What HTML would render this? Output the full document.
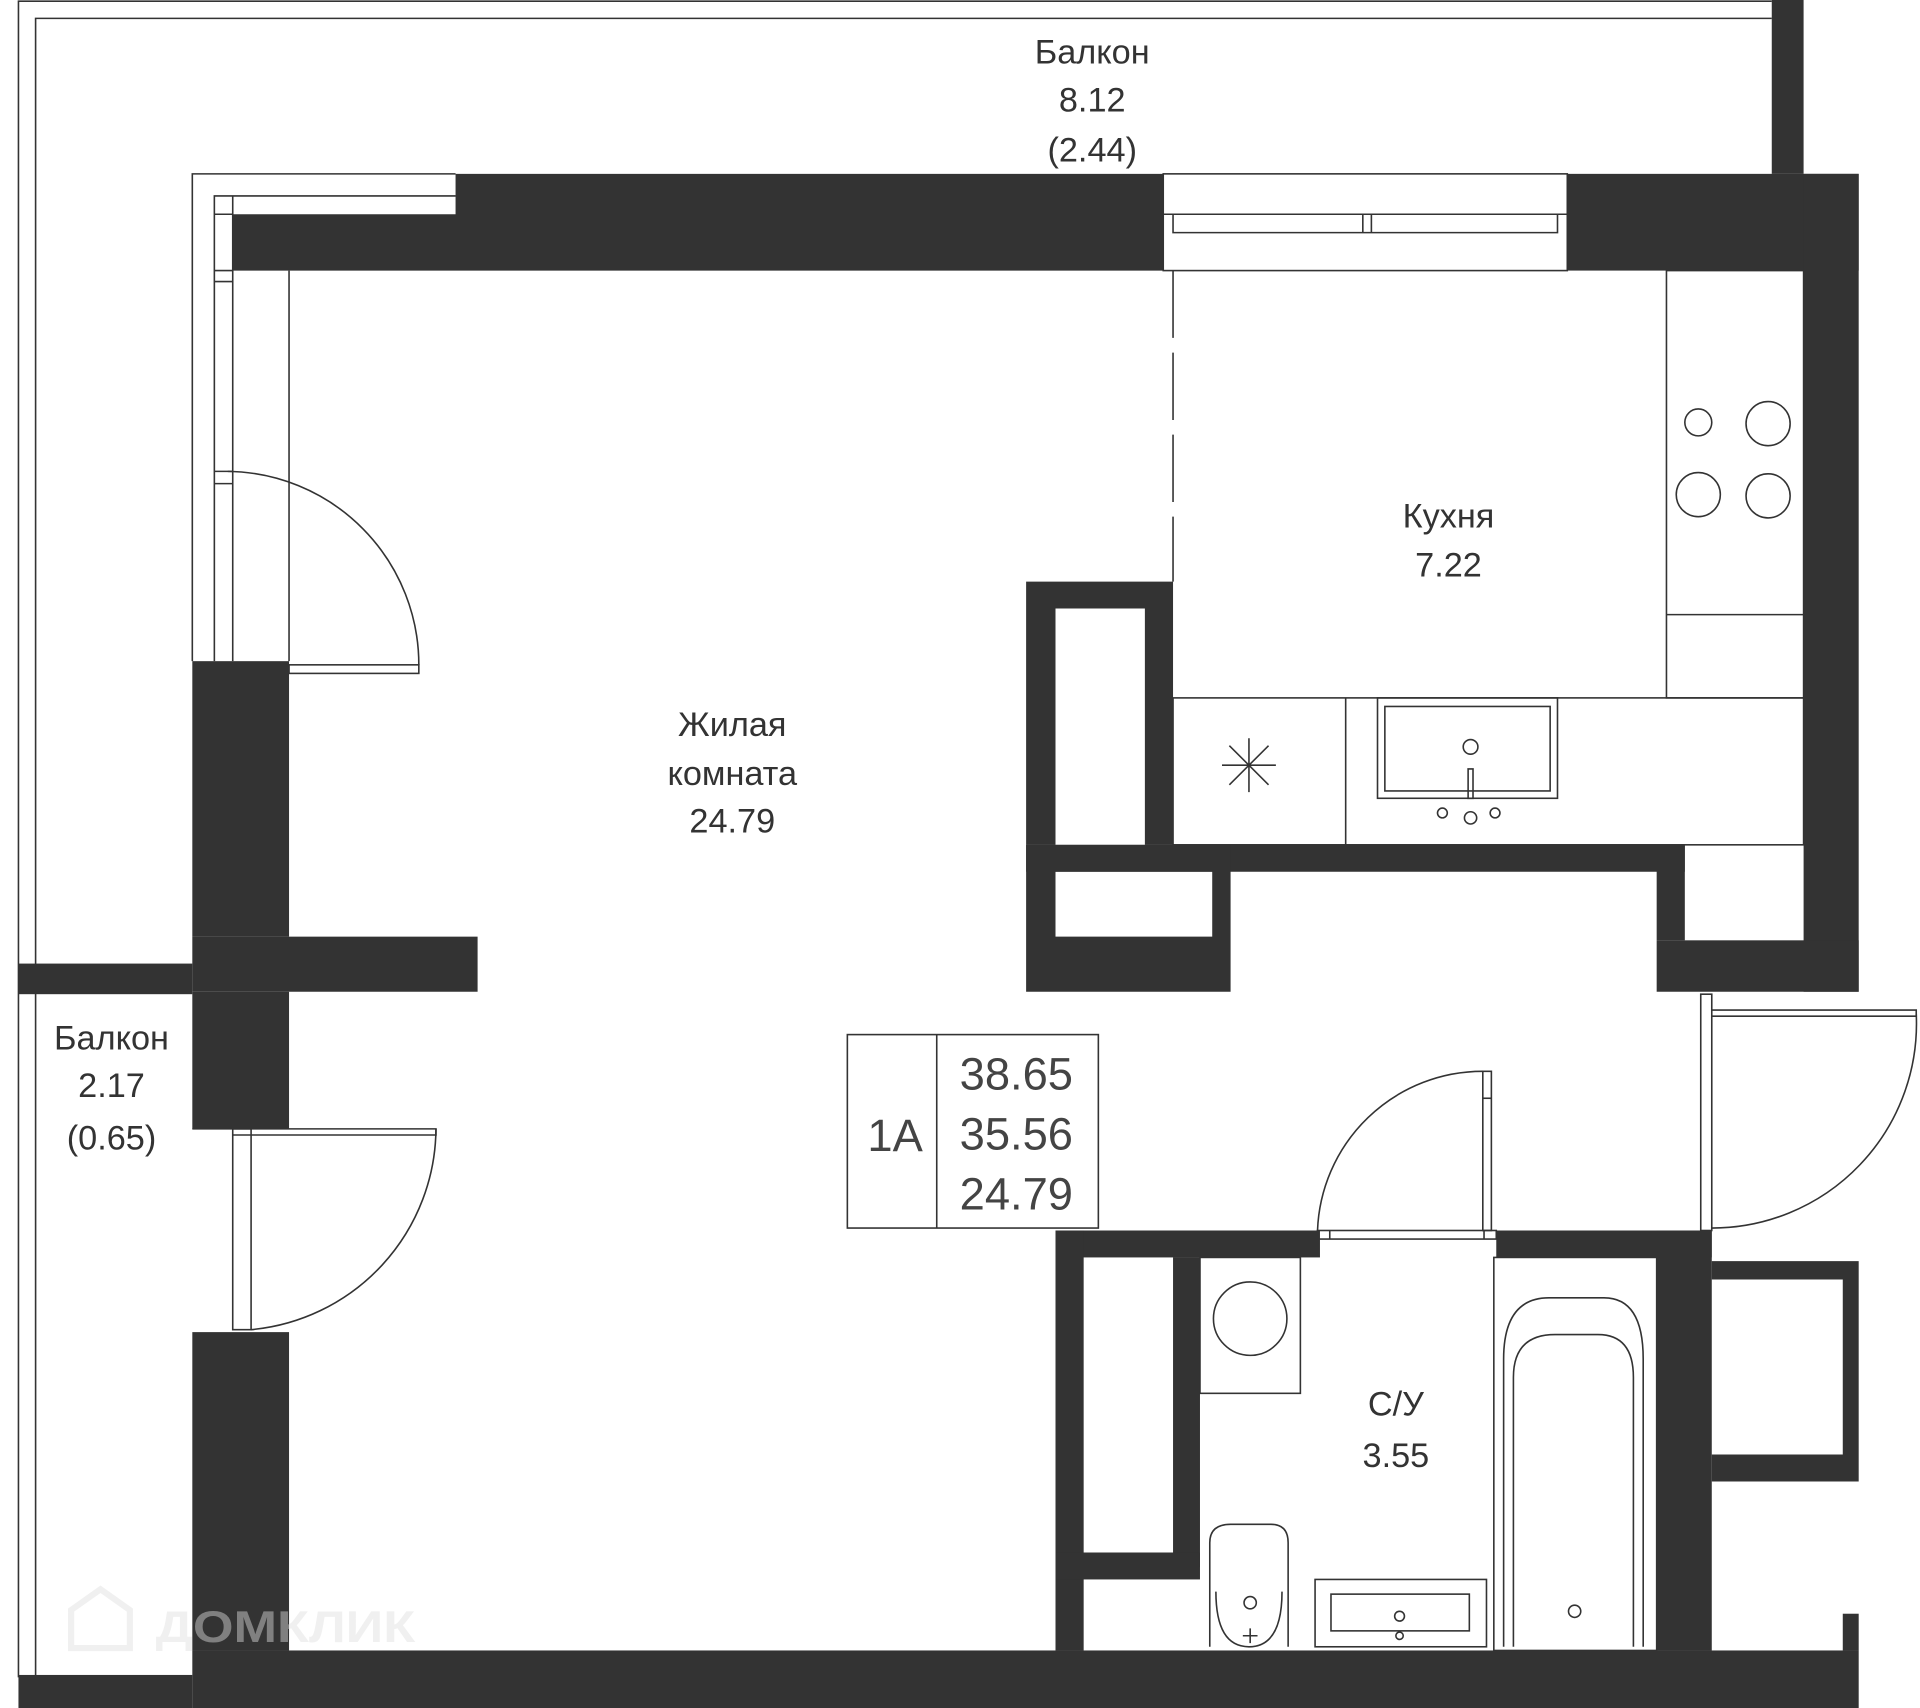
<!DOCTYPE html>
<html><head><meta charset="utf-8"><style>html,body{margin:0;padding:0;background:#fff}svg{display:block}</style></head><body>
<svg width="1920" height="1708" viewBox="0 0 1568 1395" xmlns="http://www.w3.org/2000/svg" font-family="Liberation Sans, sans-serif" fill="#333">
<g fill="none" stroke="#333" stroke-width="1.3">
<path d="M15,1370 V1 H1447"/>
<path d="M29,1368 V15 H1447"/>
<path d="M157,540 V142 H372"/>
<path d="M175,540 V160 H372 M190,160 V540 M175,175 H190 M175,221 H190 M175,230 H190 M175,385 H190 M175,395 H190"/>
<rect x="950" y="142" width="330" height="79"/>
<path d="M950,175 H1280 M958,175 V190 H1272 V175 M958,190 H1272 M1113,175 V190 M1120,175 V190"/>
<path d="M958,221 V475" stroke-dasharray="55,12"/>
<path d="M236,221 V540"/>
<path d="M186,385 A158,158 0 0 1 342,543"/>
<rect x="236" y="543" width="106" height="7"/>
<path d="M356,922 A166,166 0 0 1 205,1086"/>
<rect x="190" y="922" width="15" height="164"/><path d="M157,922 H356 V927 H190"/>
<path d="M1565,828 A167,167 0 0 1 1398,1003"/>
<rect x="1389" y="812" width="9" height="193"/><path d="M1398,825 H1565 V830 H1398"/>
<path d="M1211,875 A135,135 0 0 0 1076,1005"/>
<rect x="1211" y="875" width="7" height="130"/><path d="M1211,897 H1218"/>
<rect x="1076" y="1005" width="146" height="7"/><path d="M1086,1005 V1012 M1212,1005 V1012"/>
<rect x="1361" y="221" width="112" height="349"/><path d="M1361,502 H1473"/>
<rect x="958" y="570" width="515" height="120"/><path d="M1099,570 V690"/>
<rect x="1125" y="570" width="147" height="82"/><rect x="1131" y="577" width="135" height="69"/>
<circle cx="1201" cy="610" r="6"/><path d="M1199,628 H1203 V652 H1199 Z"/>
<circle cx="1178" cy="664" r="4"/><circle cx="1221" cy="664" r="4"/><circle cx="1201" cy="668" r="5"/>
<circle cx="1387" cy="345" r="11"/><circle cx="1444" cy="346" r="18"/><circle cx="1387" cy="404" r="18"/><circle cx="1444" cy="405" r="18"/>
<path d="M1020,603 V647 M998,625 H1042 M1004,609 L1036,641 M1004,641 L1036,609"/>
<rect x="980" y="1027" width="82" height="111"/><circle cx="1021" cy="1077" r="30"/>
<rect x="1220" y="1027" width="133" height="321"/>
<path d="M1228,1345 V1110 Q1228,1060 1265,1060 H1310 Q1342,1060 1342,1110 V1345"/>
<path d="M1236,1345 V1125 Q1236,1090 1270,1090 H1305 Q1334,1090 1334,1125 V1345"/>
<circle cx="1286" cy="1316" r="5"/>
<rect x="1074" y="1290" width="140" height="55"/><rect x="1087" y="1302" width="113" height="30"/>
<circle cx="1143" cy="1320" r="4"/><circle cx="1143" cy="1336" r="3"/>
<path d="M988,1345 V1260 Q988,1245 1005,1245 H1038 Q1052,1245 1052,1260 V1345"/>
<path d="M993,1300 Q993,1345 1020,1345 Q1047,1345 1047,1300"/>
<circle cx="1021" cy="1309" r="5"/><path d="M1015,1336 H1027 M1021,1330 V1342"/>
<rect x="692" y="845" width="205" height="158"/><path d="M765,845 V1003"/>
</g>
<g fill="#333">
<path d="M372,142 H950 V221 H190 V175 H372 Z"/>
<rect x="1447" y="0" width="26" height="142"/>
<rect x="1280" y="142" width="238" height="79"/>
<rect x="1473" y="142" width="45" height="668"/>
<rect x="1353" y="768" width="165" height="42"/>
<rect x="1353" y="690" width="23" height="78"/>
<rect x="838" y="690" width="538" height="22"/>
<path d="M838,475 H958 V690 H935 V497 H862 V690 H838 Z"/>
<path d="M838,690 H1005 V810 H838 Z M862,712 V765 H990 V712 Z" fill-rule="evenodd"/>
<rect x="157" y="540" width="79" height="225"/>
<rect x="157" y="765" width="233" height="45"/>
<rect x="15" y="787" width="142" height="25"/>
<rect x="157" y="810" width="79" height="112"/>
<rect x="157" y="1088" width="79" height="260"/>
<rect x="157" y="1348" width="1361" height="47"/>
<rect x="15" y="1368" width="142" height="27"/>
<rect x="862" y="1005" width="216" height="22"/>
<rect x="1222" y="1005" width="176" height="22"/>
<rect x="862" y="1005" width="23" height="343"/>
<rect x="958" y="1027" width="22" height="253"/>
<rect x="862" y="1268" width="118" height="22"/>
<rect x="1353" y="1005" width="45" height="343"/>
<path d="M1398,1030 H1518 V1210 H1398 V1188 H1505 V1045 H1398 Z"/>
<rect x="1505" y="1318" width="13" height="30"/>
</g>
<g font-size="28" text-anchor="middle" fill="#333">
<text x="892" y="52">Балкон</text><text x="892" y="91">8.12</text><text x="892" y="132">(2.44)</text>
<text x="1183" y="431">Кухня</text><text x="1183" y="471">7.22</text>
<text x="598" y="601">Жилая</text><text x="598" y="641">комната</text><text x="598" y="680">24.79</text>
<text x="91" y="857">Балкон</text><text x="91" y="896">2.17</text><text x="91" y="939">(0.65)</text>
<text x="1140" y="1156">С/У</text><text x="1140" y="1198">3.55</text>
</g>
<g font-size="37" text-anchor="middle" fill="#444">
<text x="731" y="940">1A</text>
<text x="830" y="890">38.65</text><text x="830" y="939">35.56</text><text x="830" y="988">24.79</text>
</g>
<g fill="#ddd" fill-opacity="0.45">
<text x="127" y="1341" font-size="36" font-weight="bold" textLength="212" lengthAdjust="spacingAndGlyphs">ДОМКЛИК</text>
</g>
<path d="M58,1346 V1315 L82,1298 L106,1315 V1346 Z" fill="none" stroke="#ddd" stroke-opacity="0.45" stroke-width="5"/>
</svg>
</body></html>
